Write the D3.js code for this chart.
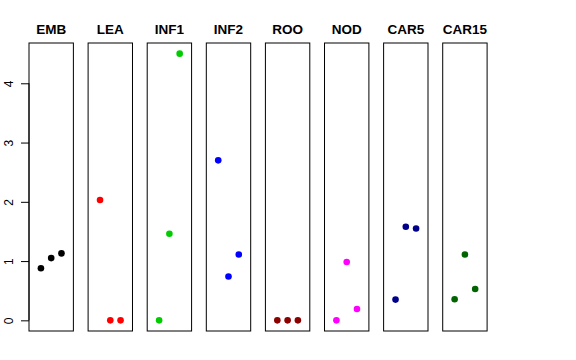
<!DOCTYPE html>
<html>
<head>
<meta charset="utf-8">
<script src="https://cdn.jsdelivr.net/npm/d3@7"></script>
<style>
  body { margin: 0; background: #fff; }
  svg { display: block; }
  text { font-family: "Liberation Sans", Arial, Helvetica, sans-serif; }
</style>
</head>
<body>
<div id="chart"></div>
<script>
// one panel per tissue, three points each
var panels = ["EMB", "LEA", "INF1", "INF2", "ROO", "NOD", "CAR5", "CAR15"];
var colors = ["#000000", "#FF0000", "#00CD00", "#0000FF", "#8B0000", "#FF00FF", "#00008B", "#006400"];
var values = [
  [0.88, 1.05, 1.13],
  [2.03, 0, 0],
  [0, 1.46, 4.50],
  [2.70, 0.74, 1.11],
  [0, 0, 0],
  [0, 0.985, 0.19],
  [0.35, 1.58, 1.55],
  [0.355, 1.11, 0.53]
];
var yTicks = [0, 1, 2, 3, 4];

var W = 576, H = 360;
var plotTop = 43, plotBottom = 331;

var svg = d3.select("#chart").append("svg")
    .attr("width", W).attr("height", H);

var y = d3.scaleLinear().domain([-0.18, 4.68]).range([plotBottom, plotTop]);

var band = d3.scaleBand().domain(panels)
    .range([29, 487.1]).paddingInner(0.249).paddingOuter(0);

var xIn = d3.scaleLinear().domain([-0.16, 4.16]).range([0, band.bandwidth()]);

// y axis on the first panel
var yAxis = d3.axisLeft(y).tickValues(yTicks).tickFormat(d3.format("d"))
    .tickSize(8).tickPadding(4);
var ga = svg.append("g")
    .attr("transform", "translate(" + band(panels[0]) + ",0)")
    .call(yAxis);
ga.select(".domain").attr("d", "M0," + y(0) + "V" + y(4)).attr("stroke", "#000");
ga.selectAll(".tick line").attr("stroke", "#000");
ga.selectAll(".tick text")
    .attr("x", null).attr("dy", null)
    .attr("text-anchor", "middle")
    .attr("font-size", 12)
    .attr("fill", "#000")
    .attr("transform", "translate(-16,0) rotate(-90)");

var panel = svg.selectAll("g.panel")
    .data(panels)
    .enter()
    .append("g")
    .attr("class", "panel")
    .attr("transform", function(d) { return "translate(" + band(d) + ",0)"; });

panel.append("rect")
    .attr("x", 0).attr("y", plotTop)
    .attr("width", band.bandwidth())
    .attr("height", plotBottom - plotTop)
    .attr("fill", "none")
    .attr("stroke", "#000")
    .attr("stroke-width", 1);

panel.append("text")
    .attr("x", band.bandwidth() / 2)
    .attr("y", 34)
    .attr("text-anchor", "middle")
    .attr("font-weight", "bold")
    .attr("font-size", 13.5)
    .text(function(d) { return d; });

panel.each(function(d, i) {
  d3.select(this).selectAll("circle")
      .data(values[i])
      .enter()
      .append("circle")
      .attr("cx", function(v, j) { return xIn(j + 1); })
      .attr("cy", function(v) { return y(v); })
      .attr("r", 3.3)
      .attr("fill", colors[i]);
});
</script>
</body>
</html>
